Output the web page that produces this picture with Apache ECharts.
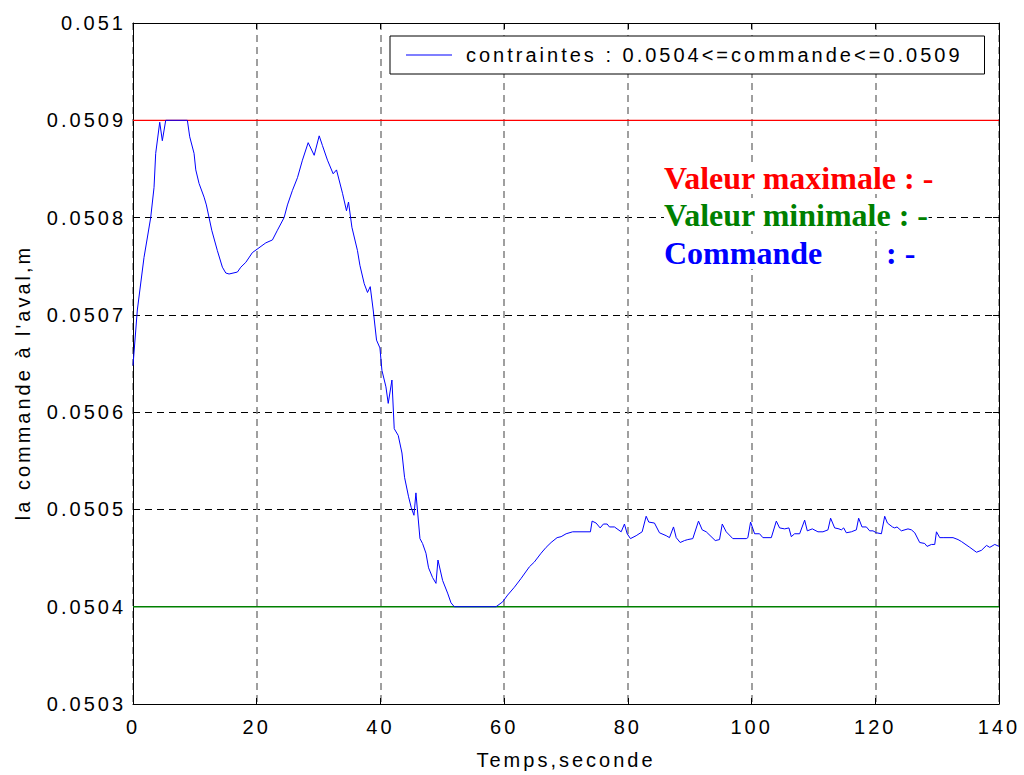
<!DOCTYPE html>
<html>
<head>
<meta charset="utf-8">
<title>la commande à l'aval</title>
<script src="https://cdn.jsdelivr.net/npm/echarts@6/dist/echarts.min.js"></script>
<style>
    html, body { margin: 0; padding: 0; background: #fff; }
    #chart { width: 1024px; height: 775px; }
    /* matlab-like wide letter spacing on the sans texts only */
    #chart text { letter-spacing: 3px; }
    #chart text[style*="Serif"] { letter-spacing: 0; }
</style>
</head>
<body>
<div id="chart"></div>
<script>
// temps (s) and command value (m)
const temps = [
    0, 0.7, 1.78, 2.31, 2.86, 3.4, 3.67, 4.32, 4.74, 5.29,
    8.79, 9.17, 9.87, 10.15, 10.68, 11.49, 11.86, 12.73, 13.64, 14.45,
    15.0, 15.53, 16.88, 17.43, 18.24, 19.3, 21.47, 22.54, 23.35, 24.43,
    24.97, 25.78, 26.59, 27.39, 28.32, 29.29, 30.1, 30.63, 31.44, 32.36,
    32.9, 33.87, 34.51, 34.84, 35.39, 36.29, 36.68, 37.38, 37.91, 38.35,
    38.83, 39.37, 39.92, 40.24, 40.89, 41.26, 41.86, 42.23, 42.88, 43.48,
    43.9, 44.55, 44.98, 45.42, 45.74, 46.39, 46.81, 47.36, 47.78, 48.43,
    48.98, 49.3, 50.05, 50.86, 51.41, 51.94, 58.69, 59.76, 60.57, 61.65,
    62.73, 64.08, 64.89, 65.97, 66.78, 67.59, 68.56, 69.21, 70.02, 71.08,
    73.95, 74.22, 74.87, 75.52, 76.05, 76.65, 77.02, 77.83, 78.92, 79.45,
    79.89, 80.42, 81.34, 82.31, 82.96, 83.38, 84.3, 85.11, 86.2, 86.73,
    87.38, 87.82, 88.46, 89.16, 89.69, 90.5, 91.42, 92.02, 92.67, 94.13,
    94.82, 95.26, 95.9, 96.97, 99.14, 99.4, 99.84, 100.49, 101.29, 101.83,
    103.19, 104.0, 104.53, 105.34, 106.04, 106.42, 106.96, 107.77, 108.58, 109.01,
    109.82, 110.73, 111.54, 112.35, 112.78, 113.43, 114.13, 114.51, 114.89, 115.32,
    116.13, 116.94, 117.31, 117.85, 118.56, 119.09, 119.63, 120.18, 120.99, 121.52,
    121.96, 122.77, 123.14, 123.51, 124.22, 125.29, 125.84, 126.38, 127.18, 127.99,
    128.37, 129.08, 129.61, 129.89, 130.42, 130.96, 132.57, 133.38, 133.93, 135.28,
    136.36, 137.17, 137.98, 138.51, 139.32, 140
];
const commande = [
    0.050648, 0.050705, 0.050759, 0.050779, 0.050800, 0.050831, 0.050866, 0.050898, 0.050879, 0.050900,
    0.050900, 0.050883, 0.050866, 0.050849, 0.050835, 0.050821, 0.050813, 0.050787, 0.050766, 0.050749,
    0.050743, 0.050742, 0.050744, 0.050749, 0.050754, 0.050764, 0.050774, 0.050777, 0.050787, 0.050800,
    0.050813, 0.050828, 0.050841, 0.050859, 0.050877, 0.050864, 0.050884, 0.050874, 0.050859, 0.050845,
    0.050849, 0.050825, 0.050807, 0.050816, 0.050790, 0.050766, 0.050751, 0.050732, 0.050723, 0.050729,
    0.050705, 0.050674, 0.050666, 0.050643, 0.050626, 0.050609, 0.050633, 0.050583, 0.050576, 0.050558,
    0.050533, 0.050513, 0.050502, 0.050494, 0.050517, 0.050470, 0.050465, 0.050455, 0.050440, 0.050430,
    0.050424, 0.050448, 0.050427, 0.050414, 0.050404, 0.050400, 0.050400, 0.050405, 0.050412, 0.050420,
    0.050429, 0.050441, 0.050446, 0.050455, 0.050461, 0.050466, 0.050471, 0.050472, 0.050475, 0.050477,
    0.050477, 0.050488, 0.050486, 0.050481, 0.050485, 0.050485, 0.050482, 0.050482, 0.050477, 0.050485,
    0.050475, 0.050470, 0.050473, 0.050477, 0.050493, 0.050487, 0.050486, 0.050476, 0.050473, 0.050471,
    0.050482, 0.050471, 0.050466, 0.050468, 0.050469, 0.050470, 0.050488, 0.050479, 0.050477, 0.050468,
    0.050469, 0.050485, 0.050477, 0.050470, 0.050470, 0.050471, 0.050487, 0.050475, 0.050475, 0.050471,
    0.050471, 0.050488, 0.050481, 0.050480, 0.050481, 0.050472, 0.050475, 0.050475, 0.050489, 0.050478,
    0.050480, 0.050477, 0.050477, 0.050479, 0.050491, 0.050481, 0.050480, 0.050479, 0.050481, 0.050476,
    0.050477, 0.050479, 0.050491, 0.050482, 0.050482, 0.050478, 0.050478, 0.050476, 0.050475, 0.050493,
    0.050486, 0.050482, 0.050481, 0.050482, 0.050478, 0.050480, 0.050479, 0.050476, 0.050466, 0.050465,
    0.050462, 0.050464, 0.050464, 0.050477, 0.050471, 0.050471, 0.050471, 0.050469, 0.050467, 0.050461,
    0.050456, 0.050458, 0.050463, 0.050461, 0.050464, 0.050462
];

// constraint bounds
const valeurMax = 0.0509;
const valeurMin = 0.0504;
const tempsBornes = [0, 140];

const nomLegende = 'contraintes : 0.0504<=commande<=0.0509';
const annotations = ['Valeur maximale : -', 'Valeur minimale : -', 'Commande', ': -'];

const sansFont = 'Liberation Sans';
const serifFont = 'Liberation Serif';

const chart = echarts.init(document.getElementById('chart'), null, { renderer: 'svg' });

function boxAxis(pos, isX) {
    // top / right edges of the box, ticks only
    return {
        type: 'value',
        position: pos,
        min: isX ? 0 : 0.0503,
        max: isX ? 140 : 0.051,
        interval: isX ? 20 : 0.0001,
        axisLine: { show: true, onZero: false, lineStyle: { color: '#000', width: 1 } },
        axisTick: { show: true, inside: true, length: 6, lineStyle: { color: '#000' } },
        axisLabel: { show: false },
        splitLine: { show: false }
    };
}

function note(txt, x, y, color) {
    return {
        type: 'text', left: x, top: y, z: 10,
        style: {
            text: txt,
            fill: color,
            font: 'bold 32px "' + serifFont + '"',
            backgroundColor: '#fff'
        }
    };
}

const option = {
    animation: false,
    backgroundColor: '#fff',
    grid: { left: 133, right: 25, top: 23, bottom: 71 },
    legend: {
        left: 390,
        top: 36,
        data: [nomLegende],
        icon: 'rect',
        itemWidth: 46,
        itemHeight: 1,
        padding: [9, 136, 9, 16],
        borderColor: '#000',
        borderWidth: 1,
        borderRadius: 0,
        backgroundColor: '#fff',
        textStyle: {
            fontFamily: sansFont,
            fontSize: 20,
            color: '#000',
            padding: [0, 0, 0, 9]
        }
    },
    xAxis: [
        {
            type: 'value',
            min: 0,
            max: 140,
            interval: 20,
            name: 'Temps,seconde',
            nameLocation: 'middle',
            nameGap: 46,
            nameTextStyle: { fontFamily: sansFont, fontSize: 20, color: '#000' },
            axisLine: { show: true, onZero: false, lineStyle: { color: '#000', width: 1 } },
            axisTick: { show: true, inside: true, length: 6, lineStyle: { color: '#000' } },
            axisLabel: { margin: 13, fontFamily: sansFont, fontSize: 20, color: '#000' },
            splitLine: { show: true, lineStyle: { color: '#808080', width: 1.5, type: [7, 5] } }
        },
        boxAxis('top', true)
    ],
    yAxis: [
        {
            type: 'value',
            min: 0.0503,
            max: 0.051,
            interval: 0.0001,
            name: "la commande à l'aval,m",
            nameLocation: 'middle',
            nameGap: 100,
            nameTextStyle: { fontFamily: sansFont, fontSize: 20, color: '#000', padding: [0, 38, 0, 0] },
            axisLine: { show: true, onZero: false, lineStyle: { color: '#000', width: 1 } },
            axisTick: { show: true, inside: true, length: 6, lineStyle: { color: '#000' } },
            axisLabel: {
                margin: 7,
                fontFamily: sansFont,
                fontSize: 20,
                color: '#000',
                formatter: v => String(+v.toFixed(4))
            },
            splitLine: { show: true, lineStyle: { color: '#000', width: 1, type: [7, 5] } }
        },
        boxAxis('right', false)
    ],
    series: [
        {
            name: 'max',
            type: 'line',
            symbol: 'none',
            data: tempsBornes.map(t => [t, valeurMax]),
            lineStyle: { color: '#ff0000', width: 1.2 },
            z: 3
        },
        {
            name: 'min',
            type: 'line',
            symbol: 'none',
            data: tempsBornes.map(t => [t, valeurMin]),
            lineStyle: { color: '#008000', width: 1.6 },
            z: 3
        },
        {
            name: nomLegende,
            type: 'line',
            symbol: 'none',
            data: temps.map((t, i) => [t, commande[i]]),
            lineStyle: { color: '#0000ff', width: 1 },
            itemStyle: { color: '#0000ff' },
            z: 4
        }
    ],
    graphic: [
        note(annotations[0], 664, 162, '#ff0000'),
        note(annotations[1], 664, 199, '#008000'),
        note(annotations[2], 664, 237, '#0000ff'),
        note(annotations[3], 886, 237, '#0000ff')
    ]
};

chart.setOption(option);

window.addEventListener('resize', () => {
    chart.resize();
});
</script>
</body>
</html>
